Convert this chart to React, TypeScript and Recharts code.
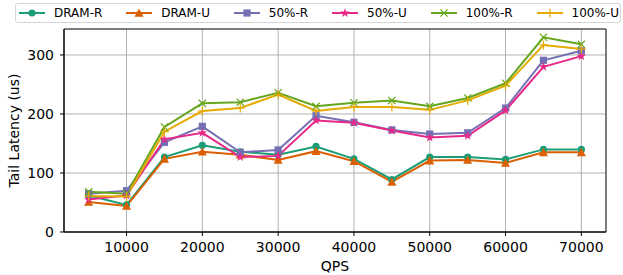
import { LineChart, Line, XAxis, YAxis, CartesianGrid, Legend, ReferenceArea } from 'recharts';

const qps = [5000, 10000, 15000, 20000, 25000, 30000, 35000, 40000, 45000, 50000, 55000, 60000, 65000, 70000];
const dramR = [62, 46, 127, 147, 136, 131, 145, 124, 89, 127, 127, 123, 140, 140];
const dramU = [51, 44, 124, 136, 131, 122, 137, 120, 85, 121, 122, 117, 135, 135];
const halfR = [65, 70, 152, 179, 135, 139, 197, 186, 173, 166, 168, 210, 291, 307];
const halfU = [55, 62, 157, 168, 127, 129, 189, 185, 172, 160, 163, 206, 280, 298];
const fullR = [68, 65, 178, 218, 220, 236, 213, 219, 223, 213, 227, 252, 330, 318];
const fullU = [61, 60, 170, 205, 210, 233, 205, 212, 212, 207, 223, 248, 317, 310];

const xTicks = [10000, 20000, 30000, 40000, 50000, 60000, 70000];
const yTicks = [0, 100, 200, 300];

type Shape = 'circle' | 'triangle' | 'square' | 'star' | 'x' | 'plus';

const series: Array<{ key: string; name: string; color: string; shape: Shape }> = [
  { key: 'dramR', name: 'DRAM-R', color: '#1b9e77', shape: 'circle' },
  { key: 'dramU', name: 'DRAM-U', color: '#d95f02', shape: 'triangle' },
  { key: 'halfR', name: '50%-R', color: '#7570b3', shape: 'square' },
  { key: 'halfU', name: '50%-U', color: '#e7298a', shape: 'star' },
  { key: 'fullR', name: '100%-R', color: '#66a61e', shape: 'x' },
  { key: 'fullU', name: '100%-U', color: '#e6ab02', shape: 'plus' }
];

const data = qps.map((q, i) => ({
  qps: q,
  dramR: dramR[i],
  dramU: dramU[i],
  halfR: halfR[i],
  halfU: halfU[i],
  fullR: fullR[i],
  fullU: fullU[i]
}));

const starPoints = (cx: number, cy: number, ro: number, ri: number) => {
  const pts: string[] = [];
  for (let k = 0; k < 10; k++) {
    const r = k % 2 === 0 ? ro : ri;
    const a = -Math.PI / 2 + (k * Math.PI) / 5;
    pts.push(`${cx + r * Math.cos(a)},${cy + r * Math.sin(a)}`);
  }
  return pts.join(' ');
};

const Marker = ({ cx, cy, shape, color }: { cx: number; cy: number; shape: Shape; color: string }) => {
  switch (shape) {
    case 'circle':
      return <circle cx={cx} cy={cy} r={3.6} fill={color} />;
    case 'triangle':
      return <polygon points={`${cx},${cy - 4.5} ${cx - 4.5},${cy + 3.8} ${cx + 4.5},${cy + 3.8}`} fill={color} />;
    case 'square':
      return <rect x={cx - 3.6} y={cy - 3.6} width={7.2} height={7.2} fill={color} />;
    case 'star':
      return <polygon points={starPoints(cx, cy, 4.8, 2)} fill={color} />;
    case 'x':
      return (
        <g stroke={color} strokeWidth={1.2}>
          <line x1={cx - 3.6} y1={cy - 3.6} x2={cx + 3.6} y2={cy + 3.6} />
          <line x1={cx - 3.6} y1={cy + 3.6} x2={cx + 3.6} y2={cy - 3.6} />
        </g>
      );
    default:
      return (
        <g stroke={color} strokeWidth={1.2}>
          <line x1={cx - 4.5} y1={cy} x2={cx + 4.5} y2={cy} />
          <line x1={cx} y1={cy - 4.5} x2={cx} y2={cy + 4.5} />
        </g>
      );
  }
};

const makeDot = (shape: Shape, color: string) => (props: any) => {
  const { cx, cy, index } = props;
  if (cx == null || cy == null) return <g key={`${shape}-${index}`} />;
  return (
    <g key={`${shape}-${index}`}>
      <Marker cx={cx} cy={cy} shape={shape} color={color} />
    </g>
  );
};

const LegendBox = () => (
  <div
    style={{
      boxSizing: 'border-box',
      width: 606,
      height: 20,
      border: '1px solid #d6d6d6',
      borderRadius: 3,
      background: '#fff',
      display: 'flex',
      alignItems: 'center',
      justifyContent: 'space-between',
      padding: '0 1px 0 3px',
      fontFamily: '"DejaVu Sans"',
      fontSize: 12,
      color: '#000'
    }}
  >
    {series.map((s) => (
      <div key={s.key} style={{ display: 'flex', alignItems: 'center' }}>
        <svg width={26} height={12}>
          <line x1={0} y1={6} x2={26} y2={6} stroke={s.color} strokeWidth={2} />
          <Marker cx={13} cy={6} shape={s.shape} color={s.color} />
        </svg>
        <span style={{ marginLeft: 9, lineHeight: '14px' }}>{s.name}</span>
      </div>
    ))}
  </div>
);

const tickStyle = { fontSize: 14, fill: '#000', fontFamily: '"DejaVu Sans"' };

export default function App() {
  return (
    <div style={{ position: 'absolute', left: 0, top: 0, width: 623, height: 275, background: '#fff' }}>
      <LineChart width={623} height={275} data={data} margin={{ top: 29, right: 17, bottom: 0, left: 0 }}>
        <CartesianGrid stroke="#b0b0b0" strokeWidth={1} />
        <XAxis
          dataKey="qps"
          type="number"
          domain={[1750, 73250]}
          ticks={xTicks}
          allowDataOverflow
          height={43}
          tick={tickStyle}
          tickSize={4}
          tickMargin={6}
          tickLine={{ stroke: '#000' }}
          axisLine={{ stroke: '#000' }}
          label={{ value: 'QPS', position: 'insideBottom', offset: 4, style: { ...tickStyle } }}
        />
        <YAxis
          type="number"
          domain={[0, 344]}
          ticks={yTicks}
          allowDataOverflow
          width={64}
          tick={tickStyle}
          tickSize={4}
          tickMargin={6}
          tickLine={{ stroke: '#000' }}
          axisLine={{ stroke: '#000' }}
          label={{
            value: 'Tail Latency (us)',
            angle: -90,
            position: 'insideLeft',
            offset: 14,
            style: { ...tickStyle, textAnchor: 'middle' }
          }}
        />
        <ReferenceArea x1={1750} x2={73250} y1={0} y2={344} fill="none" stroke="#222" strokeWidth={1} strokeOpacity={1} />
        {series.map((s) => (
          <Line
            key={s.key}
            dataKey={s.key}
            name={s.name}
            stroke={s.color}
            strokeWidth={2}
            dot={makeDot(s.shape, s.color)}
            activeDot={false}
            isAnimationActive={false}
          />
        ))}
        <Legend
          layout="horizontal"
          verticalAlign="middle"
          wrapperStyle={{ top: 3, left: 15, width: 606, height: 20 }}
          content={() => <LegendBox />}
        />
      </LineChart>
    </div>
  );
}
